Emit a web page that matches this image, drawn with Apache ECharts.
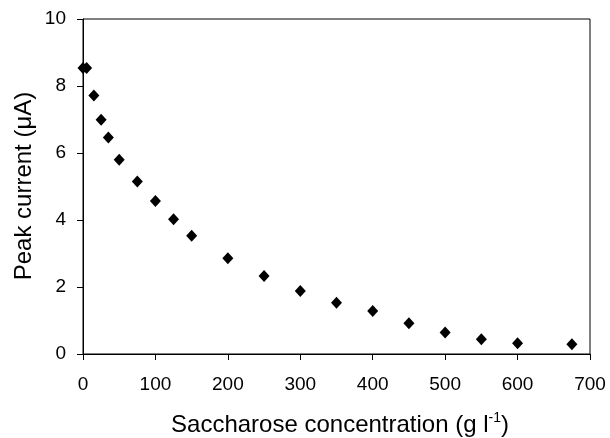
<!DOCTYPE html>
<html><head><meta charset="utf-8">
<script src="https://cdn.jsdelivr.net/npm/echarts@6/dist/echarts.min.js"></script>
<style>html,body{margin:0;padding:0;background:#fff}#c{width:610px;height:438px}</style>
</head><body><div id="c"></div>
<script>
var concentration = [0, 5, 15, 25, 35, 50, 75, 100, 125, 150, 200, 250, 300, 350, 400, 450, 500, 550, 600, 675];
var peakCurrent = [8.54, 8.54, 7.72, 6.99, 6.46, 5.80, 5.15, 4.57, 4.02, 3.53, 2.86, 2.33, 1.88, 1.53, 1.28, 0.92, 0.64, 0.44, 0.32, 0.29];
var xTicks = [0, 100, 200, 300, 400, 500, 600, 700];
var yTicks = [0, 2, 4, 6, 8, 10];

var FONT = '"Liberation Sans", Arial, sans-serif';
var chart = echarts.init(document.getElementById('c'), null, {renderer: 'canvas'});
var pts = concentration.map(function (x, i) { return [x, peakCurrent[i]]; });
chart.setOption({
  animation: false,
  backgroundColor: '#fff',
  grid: {left: 83, right: 20, top: 19, bottom: 84, show: true, borderColor: '#000', borderWidth: 1, backgroundColor: 'transparent'},
  xAxis: {
    type: 'value', min: xTicks[0], max: xTicks[xTicks.length - 1], interval: 100,
    axisLine: {show: true, onZero: false, lineStyle: {color: '#000', width: 1}},
    axisTick: {show: true, inside: false, length: 6, lineStyle: {color: '#000'}},
    axisLabel: {color: '#000', fontSize: 19, fontFamily: FONT, margin: 21},
    splitLine: {show: false}
  },
  yAxis: {
    type: 'value', min: yTicks[0], max: yTicks[yTicks.length - 1], interval: 2,
    axisLine: {show: true, onZero: false, lineStyle: {color: '#000', width: 1}},
    axisTick: {show: true, inside: false, length: 6, lineStyle: {color: '#000'}},
    axisLabel: {color: '#000', fontSize: 19, fontFamily: FONT, margin: 17},
    splitLine: {show: false}
  },
  graphic: [
    {type: 'text', x: 340, y: 424, style: {
      text: '{n|Saccharose concentration (g l}{s|-1}{n|)}',
      textAlign: 'center', textVerticalAlign: 'middle',
      rich: {n: {fontSize: 24, fontFamily: FONT, fill: '#000', verticalAlign: 'bottom'},
             s: {fontSize: 14, fontFamily: FONT, fill: '#000', verticalAlign: 'top', padding: [0, 0, 12, 0]}},
      fill: '#000'}},
    {type: 'text', x: 24, y: 186, rotation: Math.PI / 2, style: {
      text: 'Peak current (\u03bcA)', fontSize: 24, fontFamily: FONT, fill: '#000',
      textAlign: 'center', textVerticalAlign: 'middle'}}
  ],
  series: [{
    type: 'scatter', data: pts, symbol: 'diamond', symbolSize: [11, 12],
    itemStyle: {color: '#000', opacity: 1}
  }]
});
</script></body></html>
